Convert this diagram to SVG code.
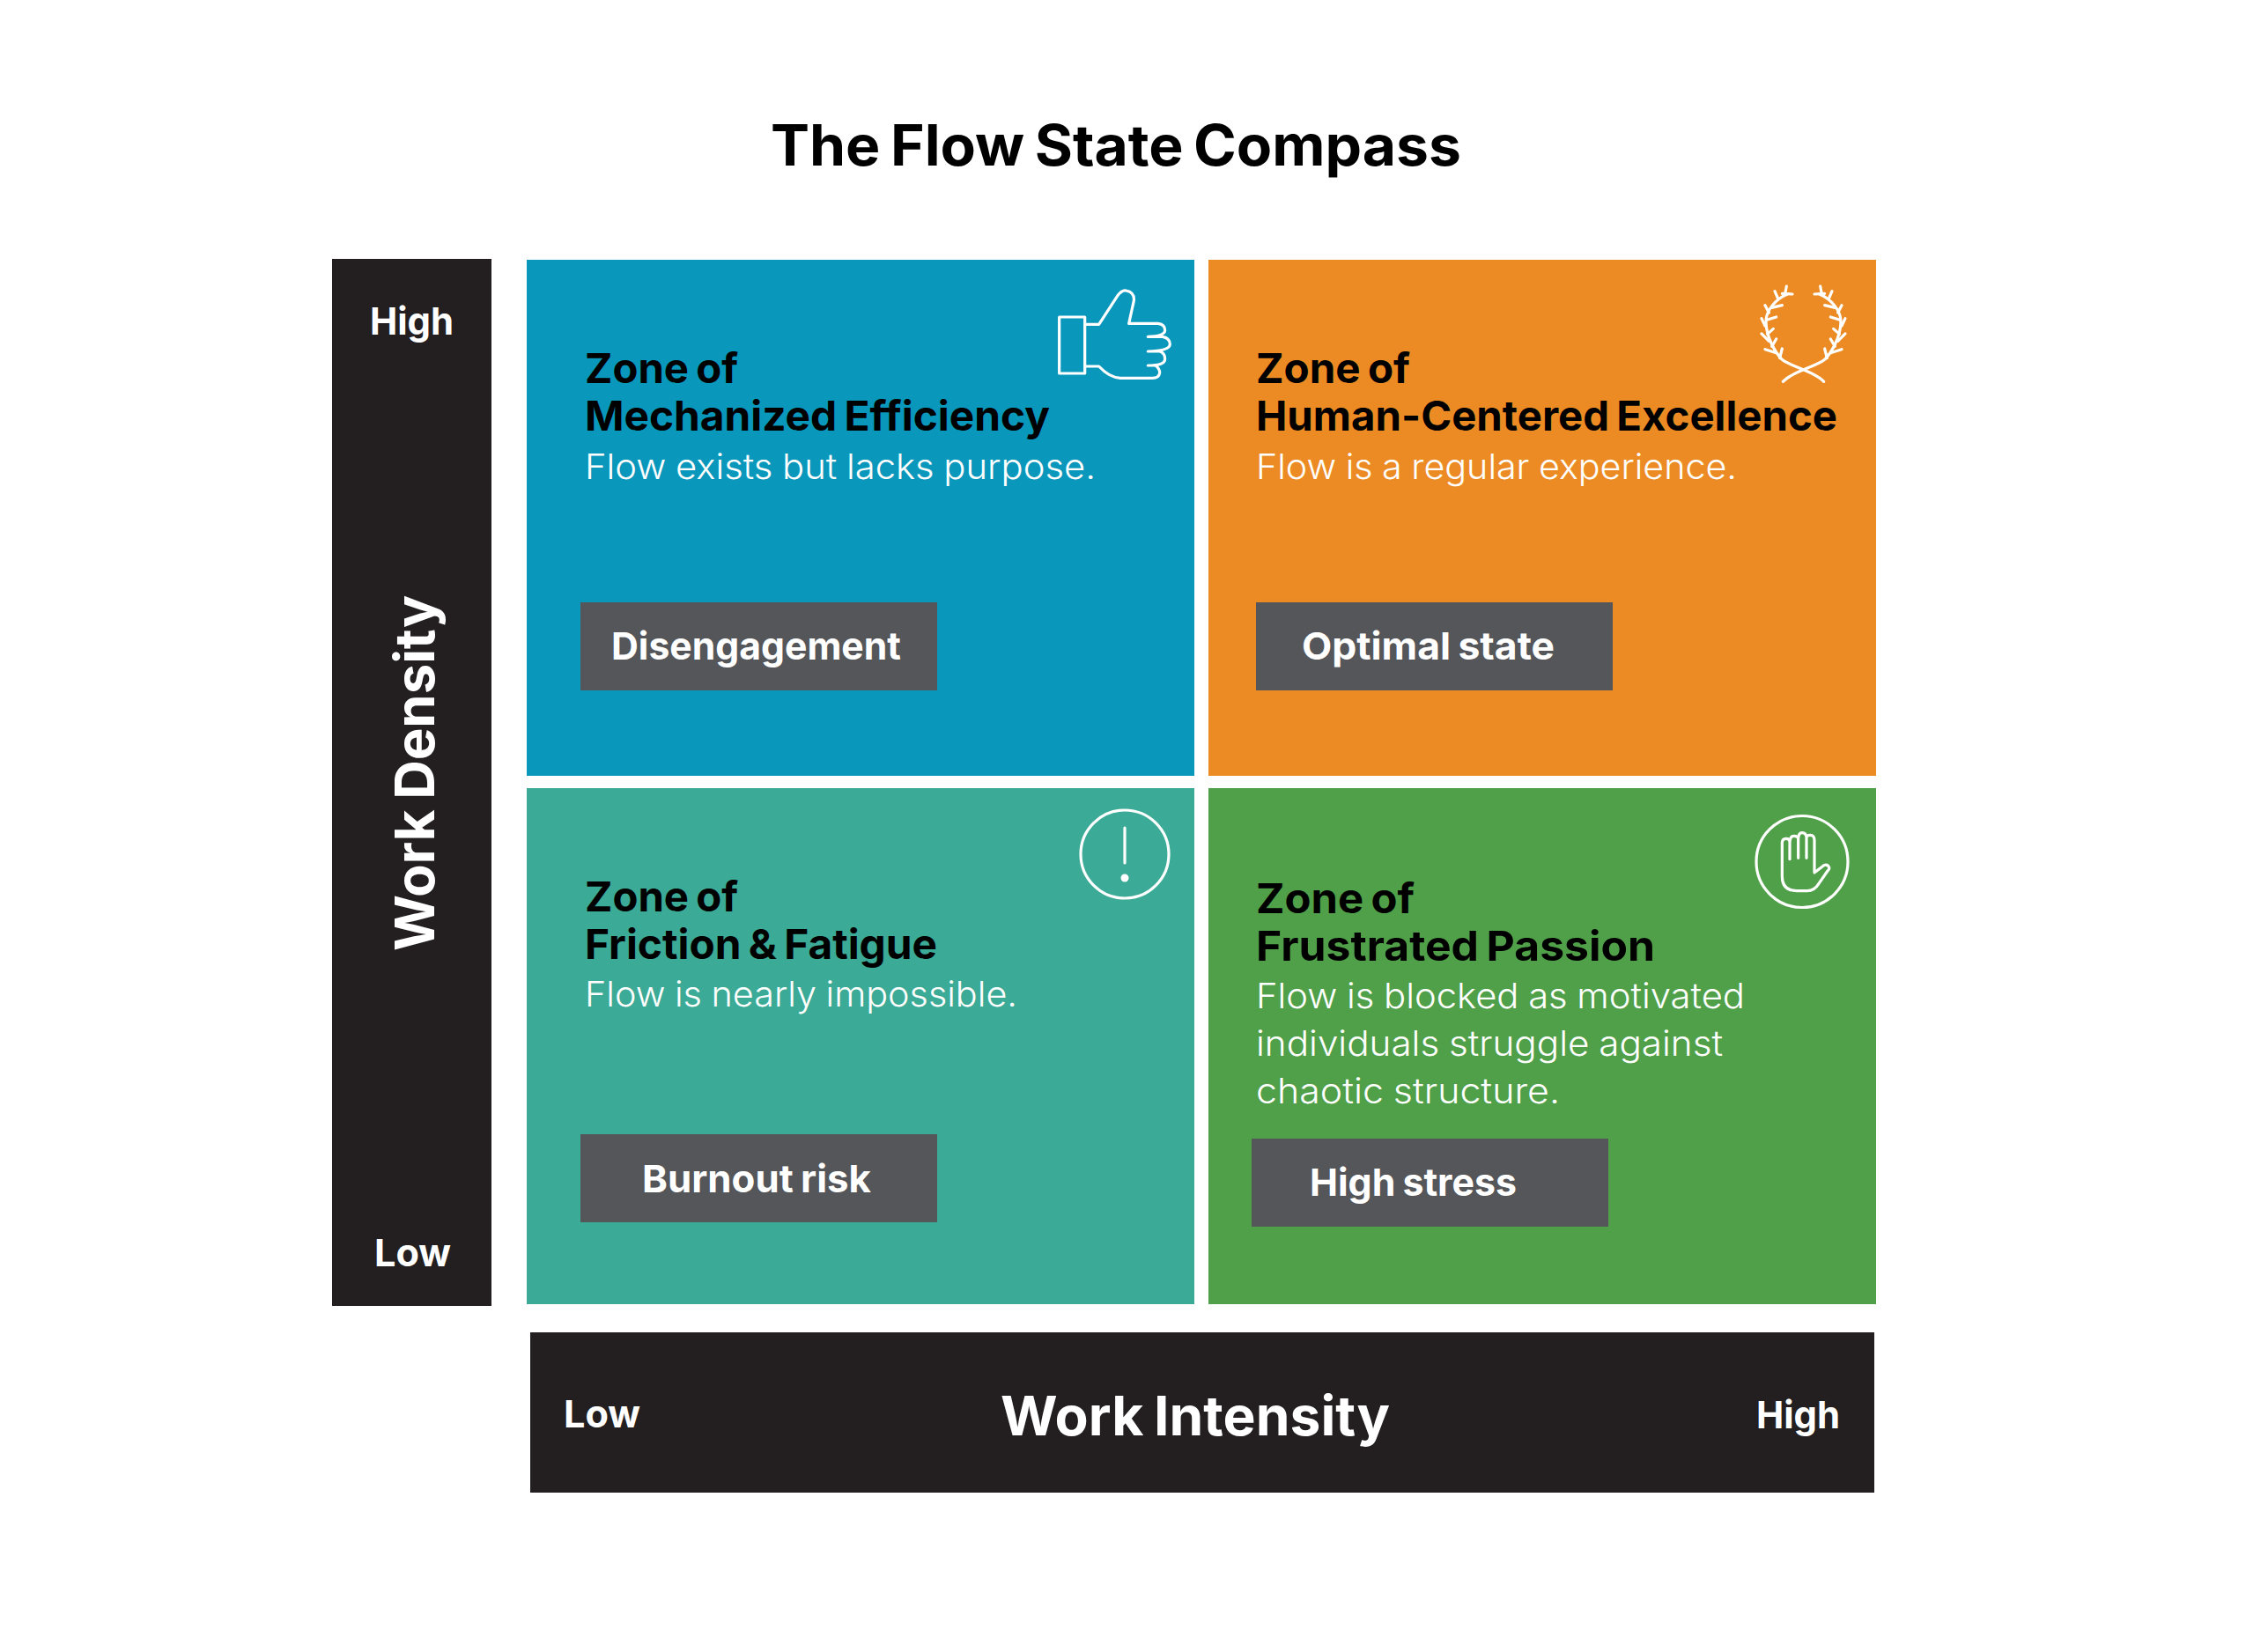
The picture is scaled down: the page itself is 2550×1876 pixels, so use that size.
<svg xmlns="http://www.w3.org/2000/svg" width="2550" height="1876" viewBox="0 0 2550 1876">
<style>
text{font-family:"Inter","Liberation Sans",sans-serif}
.title{font-size:64px;font-weight:700;fill:#000;word-spacing:-4px}
.h{font-size:47px;font-weight:700;fill:#000;word-spacing:-3px}
.b{font-size:40px;font-weight:300;fill:#fff;word-spacing:-1px}
.t{font-size:43px;font-weight:700;fill:#fff;word-spacing:-2px}
.ax{font-size:43px;font-weight:700;fill:#fff}
.axt{font-size:62px;font-weight:700;fill:#fff;word-spacing:-3px}
.tag{fill:#55565a}
.bar{fill:#231f20}
.i{fill:none;stroke:#fff;stroke-width:3.2;stroke-linecap:round;stroke-linejoin:round}
.z{fill:none;stroke:#fff;stroke-width:9.6;stroke-linecap:round;stroke-linejoin:round}
</style>
<defs>
<g id="laurel-half">
<path d="M148,72C105,90 75,130 75,165C75,215 105,270 130,295C160,320 240,335 272,370"/>
<path d="M145,45L140,72M165,72L130,70M105,62L115,85M130,110L95,118M72,110L85,135M110,150L78,160M60,155L72,180M100,190L80,208M60,207L85,232M110,225L95,250M72,260L110,272M130,258L122,290"/>
</g>
</defs>
<rect width="2550" height="1876" fill="#fff"/>
<text class="title" x="875" y="188" textLength="784" lengthAdjust="spacingAndGlyphs">The Flow State Compass</text>
<g id="axis-density">
<rect class="bar" x="377" y="294" width="181" height="1189"/>
<text class="ax" x="420" y="380" textLength="95" lengthAdjust="spacingAndGlyphs">High</text>
<text class="ax" x="425" y="1438" textLength="87" lengthAdjust="spacingAndGlyphs">Low</text>
<text class="axt" transform="translate(493 1080) rotate(-90)" textLength="404" lengthAdjust="spacingAndGlyphs">Work Density</text>
</g>
<g id="axis-intensity">
<rect class="bar" x="602" y="1513" width="1526" height="182"/>
<text class="ax" x="640" y="1621" textLength="87" lengthAdjust="spacingAndGlyphs">Low</text>
<text class="ax" x="1994" y="1622" textLength="95" lengthAdjust="spacingAndGlyphs">High</text>
<text class="axt" x="1136" y="1630" textLength="442" lengthAdjust="spacingAndGlyphs">Work Intensity</text>
</g>
<g id="zone-mechanized">
<rect x="598" y="295" width="758" height="586" fill="#0a97bc"/>
<text class="h" x="664" y="435" textLength="174" lengthAdjust="spacingAndGlyphs">Zone of</text>
<text class="h" x="664" y="489" textLength="528" lengthAdjust="spacingAndGlyphs">Mechanized Efficiency</text>
<text class="b" x="664" y="544" textLength="580" lengthAdjust="spacingAndGlyphs">Flow exists but lacks purpose.</text>
<rect class="tag" x="659" y="684" width="405" height="100"/>
<text class="t" x="694" y="749" textLength="329" lengthAdjust="spacingAndGlyphs">Disengagement</text>
<g transform="translate(1180 310) scale(.3333)">
<path class="z" d="M68,150H155V342H68ZM155,175H203L265,80Q280,58 295,60Q325,65 322,95L305,172H405Q428,175 428,195Q428,215 370,217H420Q445,222 445,243Q445,265 370,267H410Q428,272 428,293Q428,315 370,315H395Q410,325 410,340Q408,358 385,358H280Q240,358 203,318H155"/>
</g>
</g>
<g id="zone-excellence">
<rect x="1372" y="295" width="758" height="586" fill="#ec8b23"/>
<text class="h" x="1426" y="435" textLength="175" lengthAdjust="spacingAndGlyphs">Zone of</text>
<text class="h" x="1426" y="489" textLength="660" lengthAdjust="spacingAndGlyphs">Human-Centered Excellence</text>
<text class="b" x="1426" y="544" textLength="546" lengthAdjust="spacingAndGlyphs">Flow is a regular experience.</text>
<rect class="tag" x="1426" y="684" width="405" height="100"/>
<text class="t" x="1478" y="749" textLength="287" lengthAdjust="spacingAndGlyphs">Optimal state</text>
<g transform="translate(1980 310) scale(.3333)" class="z">
<use href="#laurel-half"/>
<use href="#laurel-half" transform="translate(405 0) scale(-1 1)"/>
</g>
</g>
<g id="zone-friction">
<rect x="598" y="895" width="758" height="586" fill="#3baa96"/>
<text class="h" x="664" y="1035" textLength="174" lengthAdjust="spacingAndGlyphs">Zone of</text>
<text class="h" x="664" y="1089" textLength="400" lengthAdjust="spacingAndGlyphs">Friction &amp; Fatigue</text>
<text class="b" x="664" y="1143" textLength="491" lengthAdjust="spacingAndGlyphs">Flow is nearly impossible.</text>
<rect class="tag" x="659" y="1288" width="405" height="100"/>
<text class="t" x="729" y="1354" textLength="260" lengthAdjust="spacingAndGlyphs">Burnout risk</text>
<circle class="i" cx="1277" cy="970" r="50"/>
<path class="i" d="M1277 940V980"/>
<circle cx="1277" cy="997" r="4.5" fill="#fff"/>
</g>
<g id="zone-passion">
<rect x="1372" y="895" width="758" height="586" fill="#50a049"/>
<text class="h" x="1426" y="1037" textLength="180" lengthAdjust="spacingAndGlyphs">Zone of</text>
<text class="h" x="1426" y="1091" textLength="453" lengthAdjust="spacingAndGlyphs">Frustrated Passion</text>
<text class="b" x="1426" y="1145" textLength="555" lengthAdjust="spacingAndGlyphs">Flow is blocked as motivated</text>
<text class="b" x="1426" y="1199" textLength="530" lengthAdjust="spacingAndGlyphs">individuals struggle against</text>
<text class="b" x="1426" y="1253" textLength="345" lengthAdjust="spacingAndGlyphs">chaotic structure.</text>
<rect class="tag" x="1421" y="1293" width="405" height="100"/>
<text class="t" x="1487" y="1358" textLength="235" lengthAdjust="spacingAndGlyphs">High stress</text>
<circle class="i" cx="2046" cy="978.5" r="52"/>
<g transform="translate(1980 915) scale(.3333)">
<path class="z" d="M130,240V128Q130,112 143,112Q156,112 156,125Q157,103 170,103Q184,103 185,112Q186,92 198,92Q212,92 213,108Q214,100 226,100Q240,100 240,118V228L272,203Q285,198 290,210Q292,216 285,222L255,265Q240,290 215,290H180Q130,290 130,240ZM156,125V182M185,112V178M213,108V178"/>
</g>
</g>
</svg>
